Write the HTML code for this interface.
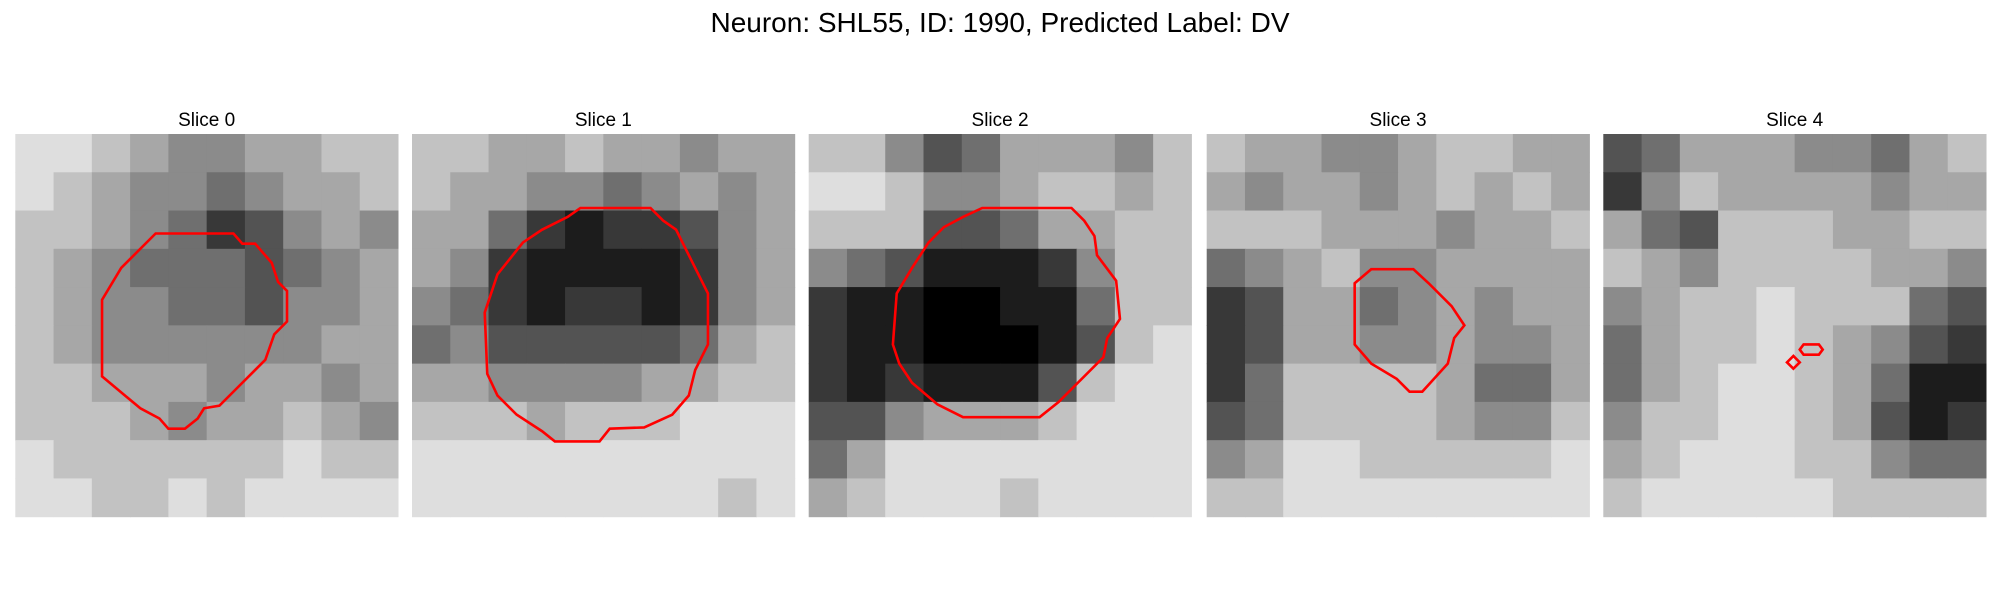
<!DOCTYPE html>
<html><head><meta charset="utf-8">
<style>
html,body{margin:0;padding:0;background:#fff;}
body{width:2000px;height:600px;overflow:hidden;font-family:"Liberation Sans","DejaVu Sans",sans-serif;}
</style></head>
<body>
<svg id="fig" width="2000" height="600" viewBox="0 0 2000 600" xmlns="http://www.w3.org/2000/svg">
<text x="1000" y="32" text-anchor="middle" font-size="28" fill="#000" font-family="Liberation Sans, DejaVu Sans, sans-serif">Neuron: SHL55, ID: 1990, Predicted Label: DV</text>
</svg>
<script>
const sliceTitles = ["Slice 0","Slice 1","Slice 2","Slice 3","Slice 4"];
const grid0 = [
[8,8,7,6,5,5,6,6,7,7],[8,7,6,5,5,4,5,6,6,7],[7,7,6,5,4,2,3,5,6,5],[7,6,5,4,4,4,3,4,5,6],[7,6,5,5,4,4,3,5,5,6],
[7,6,5,5,5,5,5,5,6,6],[7,7,6,6,6,5,6,6,5,6],[7,7,7,6,5,6,6,7,6,5],[8,7,7,7,7,7,7,8,7,7],[8,8,7,7,8,7,8,8,8,8]];
const grid1 = [
[7,7,6,6,7,6,6,5,6,6],[7,6,6,5,5,4,5,6,5,6],[6,6,4,2,1,2,2,3,5,6],[6,5,2,1,1,1,1,2,5,6],[5,4,2,1,2,2,1,2,5,6],
[4,5,3,3,3,3,3,4,6,7],[6,6,5,5,5,5,6,6,7,7],[7,7,7,6,7,7,7,8,8,8],[8,8,8,8,8,8,8,8,8,8],[8,8,8,8,8,8,8,8,7,8]];
const grid2 = [
[7,7,5,3,4,6,6,6,5,7],[8,8,7,5,5,6,7,7,6,7],[7,7,7,3,3,4,6,6,7,7],[5,4,3,1,1,1,2,5,7,7],[2,1,1,0,0,1,1,4,7,7],
[2,1,1,0,0,0,1,3,7,8],[2,1,2,1,1,1,3,7,8,8],[3,3,5,6,6,6,7,8,8,8],[4,6,8,8,8,8,8,8,8,8],[6,7,8,8,8,7,8,8,8,8]];
const grid3 = [
[7,6,6,5,5,6,7,7,6,6],[6,5,6,6,5,6,7,6,7,6],[7,7,7,6,6,6,5,6,6,7],[4,5,6,7,5,5,6,6,6,6],[2,3,6,6,4,5,6,5,6,6],
[2,3,6,6,5,5,6,5,5,6],[2,4,7,7,7,7,6,4,4,6],[3,4,7,7,7,7,6,5,5,7],[5,6,8,8,7,7,7,7,7,8],[7,7,8,8,8,8,8,8,8,8]];
const grid4 = [
[3,4,6,6,6,5,5,4,6,7],[2,5,7,6,6,6,6,5,6,6],[6,4,3,7,7,7,6,6,7,7],[7,6,5,7,7,7,7,6,6,5],[5,6,7,7,8,7,7,7,4,3],
[4,6,7,7,8,7,6,5,3,2],[4,6,7,8,8,7,6,4,1,1],[5,7,7,8,8,7,6,3,1,2],[6,7,8,8,8,7,7,5,4,4],[7,8,8,8,8,8,7,7,7,7]];
const contour0 = [[11,7.8],[17.1,7.8],[17.8,8.6],[18.8,8.6],[20.1,10.1],[20.6,11.6],[21.3,12.3],[21.3,14.7],[20.3,15.7],[19.6,17.7],[17.8,19.5],[16.8,20.5],[16,21.3],[14.8,21.5],[14.3,22.3],[13.3,23.1],[12,23.1],[11.3,22.3],[9.8,21.5],[6.8,19],[6.8,13],[8.3,10.5]];
const contour1 = [[13.2,5.8],[18.7,5.8],[19.7,6.8],[20.7,7.5],[21.7,9.5],[22.2,10.5],[23.2,12.5],[23.2,16.5],[22.2,18.5],[21.7,20.5],[20.4,22],[18.2,23],[15.5,23.1],[14.7,24.1],[11.2,24.1],[10.2,23.3],[8.2,22],[6.7,20.5],[5.9,18.8],[5.7,14],[6.7,11],[8.7,8.5],[10.2,7.5],[12.2,6.5]];
const contour2 = [[13.6,5.8],[20.6,5.8],[21.6,6.8],[22.4,8],[22.6,9.5],[24.1,11.5],[24.4,14.5],[23.4,16],[23.1,17.5],[21.1,19.5],[19.6,21],[18.1,22.2],[12.1,22.2],[10.1,21.2],[8.1,19.5],[7.1,18],[6.6,16.5],[6.9,12.5],[8.1,10.5],[9.4,8.5],[10.6,7.3],[12.1,6.5]];
const contour3 = [[12.9,10.6],[16.2,10.6],[17.4,11.7],[19.2,13.5],[20.2,15],[19.4,16],[18.9,18],[16.9,20.2],[15.9,20.2],[14.9,19.2],[12.9,18],[11.6,16.5],[11.6,11.7]];
const contour4a = [[15.4,16.9],[15.7,16.5],[16.9,16.5],[17.2,16.9],[16.9,17.3],[15.7,17.3]];
const contour4b = [[14.9,17.4],[15.4,17.9],[14.9,18.4],[14.4,17.9]];

const grids=[grid0,grid1,grid2,grid3,grid4];
const contours=[[contour0],[contour1],[contour2],[contour3],[contour4a,contour4b]];
const NS="http://www.w3.org/2000/svg";
const svg=document.getElementById('fig');
const panelX=[15.3,412,808.7,1206.7,1603.3], panelY=134, panelW=382.7, units=30;
function sx(i,u){return panelX[i]+u/units*panelW;}
function sy(u){return panelY+u/units*panelW;}
function grayOf(v){const g=Math.round(v*250/9);return `rgb(${g},${g},${g})`;}
for(let i=0;i<5;i++){
  const g=document.createElementNS(NS,'g');
  
  
  svg.appendChild(g);
  const t=document.createElementNS(NS,'text');
  
  
  t.setAttribute('x',panelX[i]+panelW/2);t.setAttribute('y',126);
  t.setAttribute('text-anchor','middle');t.setAttribute('font-size','19');
  t.textContent=sliceTitles[i];g.appendChild(t);
  const grid=grids[i], n=grid.length, cu=units/n;
  for(let r=0;r<n;r++)for(let c=0;c<grid[r].length;c++){
    const rc=document.createElementNS(NS,'rect');
    
    
    const x0=sx(i,c*cu),y0=sy(r*cu);
    rc.setAttribute('x',x0);rc.setAttribute('y',y0);
    rc.setAttribute('width',sx(i,(c+1)*cu)-x0+0.5);rc.setAttribute('height',sy((r+1)*cu)-y0+0.5);
    rc.setAttribute('fill',grayOf(grid[r][c]));
    g.appendChild(rc);
  }
  contours[i].forEach(ct=>{
    const p=document.createElementNS(NS,'polygon');
    
    
    p.setAttribute('points',ct.map(q=>sx(i,q[0])+','+sy(q[1])).join(' '));
    p.setAttribute('fill','none');p.setAttribute('stroke','#ff0000');p.setAttribute('stroke-width','2.6');
    g.appendChild(p);
  });
}
</script>
</body></html>
